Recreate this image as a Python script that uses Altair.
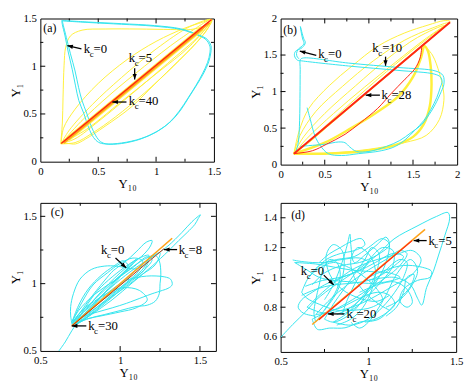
import math
import altair as alt
import pandas as pd

SERIF = "'Liberation Serif', 'Times New Roman', serif"
CYAN = "#33e4ee"
YELLOW = "#fff03a"
RED = "#ff2414"
ORANGE = "#ffa31a"

# ---------------- panel (a) ----------------
a_cyan1_x = [0.185, 0.418, 0.702, 0.986, 1.213, 1.355, 1.44, 1.474, 1.474, 1.455, 1.412, 1.355, 1.284, 1.213, 1.128,
             1.014, 0.872, 0.702, 0.56, 0.503, 0.46, 0.418, 0.375, 0.332, 0.304, 0.276, 0.241, 0.213, 0.19, 0.185]
a_cyan1_y = [1.48, 1.463, 1.446, 1.426, 1.392, 1.334, 1.284, 1.216, 1.149, 1.047, 0.929, 0.811, 0.676, 0.541, 0.422,
             0.321, 0.243, 0.196, 0.186, 0.203, 0.253, 0.355, 0.507, 0.642, 0.794, 0.963, 1.149, 1.318, 1.436, 1.48]
a_cyan2_x = [0.19, 0.42, 0.70, 0.98, 1.21, 1.35, 1.43, 1.465, 1.465, 1.445, 1.40, 1.345, 1.275, 1.20, 1.115,
             1.0, 0.86, 0.70, 0.575, 0.52, 0.48, 0.44, 0.40, 0.36, 0.33, 0.30, 0.26, 0.225, 0.198, 0.19]
a_cyan2_y = [1.475, 1.458, 1.44, 1.42, 1.386, 1.33, 1.28, 1.21, 1.14, 1.04, 0.92, 0.80, 0.665, 0.53, 0.41,
             0.31, 0.235, 0.19, 0.185, 0.21, 0.27, 0.37, 0.51, 0.64, 0.78, 0.95, 1.13, 1.30, 1.43, 1.475]
a_yel1_x = [0.176, 0.19, 0.196, 0.205, 0.219, 0.26, 0.36, 0.56, 0.844, 1.128, 1.30, 1.41, 1.483,
            1.41, 1.327, 1.185, 0.986, 0.787, 0.56, 0.389, 0.304, 0.24, 0.176]
a_yel1_y = [0.186, 0.405, 0.676, 1.01, 1.20, 1.318, 1.378, 1.39, 1.39, 1.385, 1.385, 1.42, 1.48,
            1.334, 1.216, 1.047, 0.81, 0.574, 0.372, 0.236, 0.186, 0.19, 0.186]
a_yel2_x = [0.18, 0.20, 0.30, 0.50, 0.75, 1.00, 1.25, 1.40, 1.48, 1.45, 1.35, 1.15, 0.90, 0.65, 0.45, 0.30, 0.18]
a_yel2_y = [0.19, 0.35, 0.55, 0.82, 1.07, 1.26, 1.40, 1.46, 1.49, 1.40, 1.25, 1.00, 0.72, 0.47, 0.30, 0.20, 0.19]
a_yel3_x = [0.18, 0.25, 0.45, 0.70, 1.00, 1.30, 1.48, 1.38, 1.10, 0.80, 0.50, 0.30, 0.18]
a_yel3_y = [0.19, 0.33, 0.60, 0.88, 1.18, 1.42, 1.49, 1.33, 1.03, 0.72, 0.42, 0.24, 0.19]
a_yel4_x = [0.18, 0.35, 0.60, 0.90, 1.20, 1.48, 1.30, 1.00, 0.70, 0.40, 0.18]
a_yel4_y = [0.19, 0.42, 0.70, 1.00, 1.28, 1.49, 1.22, 0.92, 0.63, 0.34, 0.19]
a_glow_x = [0.24, 1.40]
a_glow_y = [0.24, 1.40]
a_or_x = [0.20, 1.46]
a_or_y = [0.20, 1.46]
a_red_x = [0.18, 1.48]
a_red_y = [0.19, 1.49]

# ---------------- panel (b) ----------------
b_yel1_x = [0.15, 0.21, 0.32, 0.55, 0.81, 1.10, 1.40, 1.67, 1.85, 1.92, 1.80, 1.50, 1.10, 0.70, 0.40, 0.15]
b_yel1_y = [0.15, 0.46, 0.77, 1.08, 1.35, 1.62, 1.80, 1.91, 1.97, 1.96, 1.85, 1.57, 1.17, 0.74, 0.41, 0.15]
b_yel2_x = [0.15, 0.22, 0.40, 0.70, 1.05, 1.40, 1.72, 1.90, 1.78, 1.45, 1.05, 0.65, 0.33, 0.15]
b_yel2_y = [0.15, 0.40, 0.73, 1.07, 1.42, 1.70, 1.87, 1.94, 1.80, 1.48, 1.07, 0.65, 0.31, 0.15]
b_yel3_x = [0.15, 0.26, 0.50, 0.85, 1.20, 1.55, 1.85, 1.70, 1.35, 0.95, 0.55, 0.15]
b_yel3_y = [0.15, 0.38, 0.70, 1.08, 1.44, 1.74, 1.90, 1.72, 1.36, 0.95, 0.54, 0.15]
b_yel4_x = [0.15, 0.30, 0.60, 0.95, 1.30, 1.65, 1.90, 1.60, 1.20, 0.80, 0.40, 0.15]
b_yel4_y = [0.15, 0.36, 0.70, 1.06, 1.40, 1.73, 1.93, 1.63, 1.22, 0.81, 0.40, 0.15]
b_yel5_x = [1.62, 1.72, 1.80, 1.84, 1.85, 1.80, 1.65, 1.40, 1.00, 0.60, 0.15]
b_yel5_y = [1.64, 1.50, 1.25, 1.05, 0.88, 0.62, 0.40, 0.30, 0.21, 0.16, 0.15]
b_thick_x = [0.15, 0.50, 0.80, 1.07, 1.33, 1.50, 1.59, 1.63, 1.67, 1.70, 1.71, 1.69, 1.62, 1.50, 1.25, 0.90, 0.50, 0.15]
b_thick_y = [0.15, 0.30, 0.50, 0.70, 0.93, 1.20, 1.46, 1.62, 1.55, 1.35, 1.10, 0.80, 0.55, 0.38, 0.25, 0.18, 0.15, 0.15]
b_cyan1_x = [0.30, 0.336, 0.39, 0.45, 0.54, 0.69, 0.88, 1.14, 1.30, 1.42, 1.52, 1.62, 1.70, 1.77, 1.81, 1.83, 1.81,
             1.74, 1.33, 0.77, 0.24, 0.19, 0.157, 0.168, 0.243, 0.28, 0.26, 0.224]
b_cyan1_y = [0.78, 0.62, 0.39, 0.26, 0.15, 0.125, 0.15, 0.19, 0.25, 0.35, 0.47, 0.60, 0.75, 0.92, 1.06, 1.14, 1.20,
             1.24, 1.29, 1.35, 1.42, 1.43, 1.49, 1.55, 1.60, 1.67, 1.73, 1.89]
b_cyan2_x = [0.17, 0.20, 0.215, 0.22, 0.222, 0.225, 0.26, 0.77, 1.33, 1.76, 1.84, 1.85, 1.82, 1.75, 1.68, 1.60, 1.48,
             1.35, 1.20, 1.00, 0.86, 0.785, 0.729, 0.654, 0.505, 0.318, 0.22]
b_cyan2_y = [0.17, 0.30, 0.60, 1.00, 1.30, 1.44, 1.46, 1.39, 1.33, 1.28, 1.22, 1.10, 1.00, 0.82, 0.68, 0.55, 0.44,
             0.33, 0.25, 0.18, 0.18, 0.24, 0.30, 0.31, 0.28, 0.26, 0.25]
b_cyan3_x = [0.224, 0.235, 0.25, 0.265, 0.24, 0.20, 0.18, 0.19, 0.21]
b_cyan3_y = [1.89, 1.80, 1.72, 1.66, 1.62, 1.58, 1.52, 1.47, 1.45]
b_red_x = [0.15, 1.92]
b_red_y = [0.15, 1.95]
b_redloop_x = [1.60, 1.58, 1.52, 1.41, 1.25, 1.10, 0.90, 0.73, 0.52, 0.36, 0.15]
b_redloop_y = [1.62, 1.46, 1.31, 1.17, 0.97, 0.77, 0.57, 0.415, 0.28, 0.19, 0.15]

# ---------------- panel (c) ----------------
c_cyan1_x = [0.616, 0.656, 0.697, 0.75, 0.85, 0.97, 1.10, 1.22, 1.30, 1.387, 1.45, 1.503, 1.49, 1.468, 1.42, 1.367,
             1.30, 1.20, 1.08, 0.95, 0.82, 0.72]
c_cyan1_y = [0.50, 0.567, 0.65, 0.74, 0.87, 1.00, 1.12, 1.21, 1.28, 1.38, 1.46, 1.511, 1.485, 1.44, 1.38, 1.32,
             1.24, 1.13, 1.01, 0.88, 0.77, 0.69]
c_cyan2_x = [0.70, 0.69, 0.69, 0.707, 0.748, 0.819, 0.90, 0.98, 1.04, 1.10, 1.15, 1.18, 1.15, 1.05, 0.90, 0.78, 0.70]
c_cyan2_y = [0.69, 0.76, 0.83, 0.925, 1.033, 1.105, 1.13, 1.13, 1.117, 1.11, 1.14, 1.18, 1.10, 1.00, 0.85, 0.74, 0.69]
c_cyan3_x = [0.70, 0.80, 0.92, 1.03, 1.103, 1.165, 1.225, 1.28, 1.316, 1.326, 1.30, 1.265, 1.20, 1.143, 1.04, 0.95,
             0.86, 0.78, 0.72, 0.70]
c_cyan3_y = [0.69, 0.80, 0.93, 1.02, 1.045, 1.056, 1.057, 1.05, 1.033, 0.992, 0.965, 0.95, 0.925, 0.90, 0.854, 0.82,
             0.79, 0.76, 0.72, 0.69]
c_cyan4_x = [0.95, 1.05, 1.15, 1.22, 1.245, 1.255, 1.25, 1.245, 1.22, 1.17, 1.10, 1.00, 0.90, 0.80, 0.72]
c_cyan4_y = [1.00, 1.10, 1.18, 1.21, 1.17, 1.07, 1.00, 0.925, 0.87, 0.84, 0.83, 0.80, 0.77, 0.74, 0.70]
c_cyan5_x = [0.70, 0.80, 0.90, 0.96, 1.03, 1.10, 1.164, 1.20, 1.19, 1.15, 1.08, 1.00, 0.90, 0.80, 0.72]
c_cyan5_y = [0.70, 0.87, 1.02, 1.10, 1.16, 1.236, 1.308, 1.32, 1.28, 1.22, 1.15, 1.06, 0.93, 0.80, 0.71]
c_cyan6_x = [0.72, 0.78, 0.86, 0.95, 1.05, 1.12, 1.18, 1.15, 1.07, 0.98, 0.88, 0.80, 0.72]
c_cyan6_y = [0.70, 0.82, 0.95, 1.05, 1.14, 1.19, 1.21, 1.12, 1.03, 0.94, 0.84, 0.76, 0.70]
c_cyan7_x = [0.70, 0.76, 0.83, 0.92, 1.00, 1.08, 1.14, 1.12, 1.04, 0.96, 0.88, 0.80, 0.72]
c_cyan7_y = [0.72, 0.86, 0.99, 1.08, 1.15, 1.19, 1.17, 1.10, 1.01, 0.93, 0.85, 0.77, 0.70]
c_cyan8_x = [0.71, 0.80, 0.92, 1.04, 1.14, 1.22, 1.25, 1.20, 1.10, 1.00, 0.88, 0.78, 0.71]
c_cyan8_y = [0.70, 0.78, 0.88, 0.98, 1.07, 1.14, 1.23, 1.20, 1.10, 0.99, 0.87, 0.77, 0.70]
c_cyan9_x = [0.72, 0.80, 0.88, 1.00, 1.10, 1.17, 1.12, 1.02, 0.92, 0.84, 0.76, 0.70]
c_cyan9_y = [0.70, 0.74, 0.76, 0.79, 0.82, 0.88, 0.95, 0.97, 0.93, 0.87, 0.80, 0.71]
c_cyan10_x = [0.70, 0.74, 0.80, 0.88, 0.96, 1.02, 1.05, 1.00, 0.92, 0.84, 0.76, 0.70]
c_cyan10_y = [0.72, 0.84, 0.96, 1.06, 1.13, 1.17, 1.13, 1.05, 0.95, 0.86, 0.78, 0.71]
c_cyan11_x = [0.70, 0.78, 0.85, 0.93, 1.00, 1.06, 1.10, 1.06, 0.98, 0.90, 0.82, 0.74, 0.70]
c_cyan11_y = [0.70, 0.80, 0.90, 1.00, 1.08, 1.14, 1.18, 1.12, 1.04, 0.95, 0.86, 0.77, 0.71]
c_cyan12_x = [0.72, 0.82, 0.94, 1.06, 1.15, 1.20, 1.17, 1.08, 0.96, 0.84, 0.74, 0.70]
c_cyan12_y = [0.72, 0.82, 0.92, 1.02, 1.10, 1.18, 1.20, 1.12, 1.02, 0.92, 0.80, 0.72]
c_or_x = [0.697, 1.326]
c_or_y = [0.686, 1.337]
c_red_x = [0.697, 1.275]
c_red_y = [0.686, 1.26]

# ---------------- panel (d) ----------------
d_cyan1_x = [0.50, 0.569, 0.643, 0.70, 0.755, 0.85, 0.95, 1.05, 1.146, 1.277, 1.388, 1.453, 1.463, 1.435, 1.40,
             1.37, 1.332, 1.304, 1.28, 1.24, 1.15, 1.00]
d_cyan1_y = [0.597, 0.684, 0.77, 0.846, 0.90, 0.98, 1.06, 1.15, 1.258, 1.344, 1.409, 1.435, 1.398, 1.279, 1.15,
             1.04, 0.933, 0.814, 0.86, 0.95, 1.00, 0.98]
d_cyan2_x = [0.569, 0.60, 0.68, 0.75, 0.85, 0.95, 1.00, 0.95, 0.85, 0.75, 0.68, 0.62, 0.60, 0.63, 0.70]
d_cyan2_y = [1.117, 1.11, 1.10, 1.10, 1.12, 1.13, 1.10, 1.05, 1.00, 0.95, 0.90, 0.85, 0.80, 0.76, 0.74]
d_cyan3_x = [0.75, 0.80, 0.85, 0.88, 0.895, 0.90, 0.92, 0.98, 1.05, 1.10, 1.12, 1.10, 1.05, 0.98, 0.90, 0.82]
d_cyan3_y = [0.85, 0.95, 1.10, 1.22, 1.29, 1.22, 1.10, 1.15, 1.22, 1.27, 1.23, 1.10, 0.98, 0.88, 0.80, 0.75]
d_cyan4_x = [0.68, 0.709, 0.78, 0.867, 0.95, 1.03, 1.10, 1.15, 1.12, 1.05, 0.95, 0.85, 0.75, 0.68]
d_cyan4_y = [0.72, 0.652, 0.66, 0.662, 0.70, 0.716, 0.76, 0.82, 0.88, 0.90, 0.86, 0.80, 0.76, 0.72]
d_cyan5_x = [1.00, 1.10, 1.20, 1.30, 1.36, 1.35, 1.28, 1.20, 1.18, 1.22, 1.25, 1.22, 1.15, 1.05, 0.95]
d_cyan5_y = [1.00, 1.05, 1.08, 1.07, 1.04, 1.00, 0.98, 0.92, 0.84, 0.80, 0.83, 0.92, 0.97, 0.95, 0.90]
d_cyan6_x = [0.62, 0.66, 0.72, 0.80, 0.90, 0.98, 1.05, 1.08, 1.02, 0.92, 0.82, 0.72, 0.65, 0.62]
d_cyan6_y = [0.90, 1.00, 1.06, 1.10, 1.06, 1.00, 0.92, 0.85, 0.80, 0.78, 0.78, 0.82, 0.86, 0.90]
d_cyan7_x = [0.70, 0.78, 0.88, 1.00, 1.10, 1.18, 1.22, 1.18, 1.10, 1.00, 0.88, 0.78, 0.70]
d_cyan7_y = [0.75, 0.85, 0.95, 1.05, 1.12, 1.18, 1.16, 1.08, 1.00, 0.92, 0.83, 0.77, 0.75]
d_cyan8_x = [0.75, 0.80, 0.86, 0.92, 0.98, 1.02, 1.06, 1.05, 1.00, 0.95, 0.88, 0.80, 0.75]
d_cyan8_y = [0.72, 0.82, 0.92, 1.02, 1.12, 1.20, 1.16, 1.05, 0.92, 0.82, 0.74, 0.70, 0.72]
d_cyan9_x = [0.65, 0.72, 0.80, 0.92, 1.05, 1.15, 1.25, 1.30, 1.25, 1.15, 1.05, 0.95, 0.85, 0.75, 0.65]
d_cyan9_y = [0.80, 0.88, 0.96, 1.06, 1.12, 1.15, 1.18, 1.12, 1.02, 0.95, 0.88, 0.82, 0.78, 0.76, 0.80]
d_cyan10_x = [0.80, 0.90, 1.00, 1.08, 1.15, 1.20, 1.22, 1.18, 1.10, 1.02, 0.95, 0.88, 0.80]
d_cyan10_y = [0.70, 0.68, 0.72, 0.80, 0.90, 1.00, 1.10, 1.12, 1.05, 0.95, 0.85, 0.76, 0.70]
d_cyan11_x = [0.58, 0.65, 0.72, 0.80, 0.90, 1.00, 1.10, 1.18, 1.12, 1.00, 0.90, 0.80, 0.70, 0.58]
d_cyan11_y = [1.10, 1.05, 1.00, 0.98, 0.97, 0.96, 0.97, 1.00, 1.03, 1.04, 1.05, 1.07, 1.09, 1.10]
d_cyan12_x = [0.70, 0.76, 0.82, 0.84, 0.82, 0.78, 0.74, 0.72, 0.70, 0.69, 0.70]
d_cyan12_y = [0.70, 0.80, 0.92, 1.02, 1.10, 1.12, 1.05, 0.95, 0.85, 0.76, 0.70]
d_cyan13_x = [0.75, 0.82, 0.86, 0.85, 0.80, 0.76, 0.78, 0.85, 0.95, 1.05, 1.12]
d_cyan13_y = [0.78, 0.90, 1.05, 1.18, 1.22, 1.15, 1.02, 0.92, 0.86, 0.84, 0.88]
d_cyan14_x = [0.82, 0.90, 0.97, 1.02, 1.04, 1.00, 0.94, 0.90, 0.92, 0.98, 1.06, 1.12]
d_cyan14_y = [0.68, 0.72, 0.80, 0.92, 1.05, 1.16, 1.20, 1.12, 1.00, 0.90, 0.82, 0.78]
d_cyan15_x = [0.68, 0.75, 0.85, 0.95, 1.05, 1.12, 1.08, 1.00, 0.92, 0.82, 0.72, 0.66]
d_cyan15_y = [0.95, 1.03, 1.08, 1.10, 1.15, 1.22, 1.26, 1.20, 1.14, 1.12, 1.08, 1.00]
d_cyan16_x = [0.90, 0.95, 1.00, 1.05, 1.10, 1.16, 1.24, 1.28, 1.25, 1.18, 1.10]
d_cyan16_y = [0.70, 0.66, 0.70, 0.78, 0.88, 1.02, 1.12, 1.05, 0.95, 0.85, 0.80]
d_cyan17_x = [0.62, 0.70, 0.80, 0.90, 1.00, 1.08, 1.15, 1.20, 1.14, 1.04, 0.94, 0.84, 0.74, 0.64]
d_cyan17_y = [0.88, 0.92, 0.95, 0.96, 0.98, 1.02, 1.08, 1.14, 1.16, 1.10, 1.04, 1.00, 0.98, 0.94]
d_cyan18_x = [0.85, 0.88, 0.92, 0.97, 1.02, 1.08, 1.14, 1.14, 1.08, 1.00, 0.93, 0.85]
d_cyan18_y = [0.75, 0.85, 0.95, 1.05, 1.14, 1.20, 1.18, 1.08, 0.98, 0.88, 0.80, 0.75]
d_cyan19_x = [1.10, 1.16, 1.20, 1.22, 1.26, 1.24, 1.18, 1.12, 1.06, 0.98]
d_cyan19_y = [0.74, 0.80, 0.90, 1.00, 1.02, 0.94, 0.86, 0.78, 0.72, 0.70]
d_cyan20_x = [0.70, 0.76, 0.84, 0.92, 0.98, 0.96, 0.90, 0.84, 0.78, 0.72]
d_cyan20_y = [1.05, 1.12, 1.16, 1.18, 1.22, 1.26, 1.24, 1.20, 1.16, 1.10]
d_or_x = [0.68, 1.323]
d_or_y = [0.684, 1.322]
d_red_x = [0.718, 1.249]
d_red_y = [0.716, 1.247]

# ---------------- annotations: (text x, text y, label, tail x, tail y, head x, head y) ----------------
a_notes = [(0.375, 1.182, "=0", 0.355, 1.182, 0.233, 1.216),
           (0.764, 1.088, "=5", 0.815, 0.98, 0.815, 0.861),
           (0.764, 0.630, "=40", 0.744, 0.625, 0.622, 0.625)]
b_notes = [(0.426, 1.509, "=0", 0.404, 1.496, 0.217, 1.554),
           (1.039, 1.589, "=10", 1.189, 1.478, 1.189, 1.353),
           (1.144, 0.951, "=28", 1.125, 0.951, 0.964, 0.951)]
c_notes = [(0.880, 1.248, "=0", 0.971, 1.19, 1.038, 1.117),
           (1.367, 1.248, "=8", 1.357, 1.253, 1.275, 1.253),
           (0.800, 0.686, "=30", 0.788, 0.686, 0.697, 0.686)]
d_notes = [(1.342, 1.247, "=5", 1.332, 1.247, 1.258, 1.247),
           (0.615, 1.041, "=0", 0.746, 1.015, 0.802, 0.950),
           (0.876, 0.755, "=20", 0.863, 0.755, 0.770, 0.755)]

ARROW = "M0,0L0.7,1.9L-0.7,1.9Z"


def traj_df(series):
    rows = []
    for k, (xs, ys) in enumerate(series):
        for i, (x, y) in enumerate(zip(xs, ys)):
            rows.append({"s": k, "i": i, "x": x, "y": y})
    return pd.DataFrame(rows)


def tick_df(xd, yd, W, H, xmaj, xmin_, ymaj, ymin_):
    ux = (xd[1] - xd[0]) / W
    uy = (yd[1] - yd[0]) / H
    rows = []
    for v, L in [(v, 5) for v in xmaj] + [(v, 3) for v in xmin_]:
        rows.append({"x": v, "x2": v, "y": yd[0], "y2": yd[0] + L * uy})
        rows.append({"x": v, "x2": v, "y": yd[1], "y2": yd[1] - L * uy})
    for v, L in [(v, 5) for v in ymaj] + [(v, 3) for v in ymin_]:
        rows.append({"y": v, "y2": v, "x": xd[0], "x2": xd[0] + L * ux})
        rows.append({"y": v, "y2": v, "x": xd[1], "x2": xd[1] - L * ux})
    return pd.DataFrame(rows)


def panel(P):
    xd, yd, W, H = P["xd"], P["yd"], P["W"], P["H"]
    xs = alt.Scale(domain=xd, nice=False, zero=False)
    ys = alt.Scale(domain=yd, nice=False, zero=False)
    common = dict(grid=False, ticks=False, domain=False, labelFont=SERIF, labelFontSize=11, labelPadding=4,
                  labelOverlap=False, labelColor="black", titleFont=SERIF, titleFontSize=13,
                  titleFontWeight="normal", titleColor="black", format="~g")
    ax = alt.Axis(values=P["xlab"], title="Y₁₀", labelFlush=False, titlePadding=1, **common)
    ay = alt.Axis(values=P["ylab"], title="Y₁", titlePadding=1, **common)

    def X(f):
        return alt.X(f, type="quantitative", scale=xs, axis=ax)

    def Y(f):
        return alt.Y(f, type="quantitative", scale=ys, axis=ay)

    layers = []
    tdf = tick_df(xd, yd, W, H, *P["ticks"])
    layers.append(alt.Chart(tdf).mark_rule(color="black", strokeWidth=1).encode(
        x=X("x"), x2="x2", y=Y("y"), y2="y2"))
    for series, color, width, op in P["groups"]:
        layers.append(alt.Chart(traj_df(series)).mark_line(
            color=color, strokeWidth=width, opacity=op, interpolate="catmull-rom", clip=True).encode(
            x=X("x"), y=Y("y"), detail="s:N", order="i:Q"))
    # panel label
    layers.append(alt.Chart(pd.DataFrame([{"x": P["lab"][0], "y": P["lab"][1], "t": P["lab"][2]}])).mark_text(
        align="left", baseline="middle", font=SERIF, fontSize=12, color="black").encode(
        x=X("x"), y=Y("y"), text="t:N"))
    # annotations
    px_x = W / (xd[1] - xd[0])
    px_y = H / (yd[1] - yd[0])
    rows = []
    for tx, ty, lab, x1, y1, x2, y2 in P["notes"]:
        dx = (x2 - x1) * px_x
        dy = -(y2 - y1) * px_y
        ang = math.degrees(math.atan2(dx, -dy)) % 360
        rows.append({"tx": tx, "ty": ty, "lab": lab, "x1": x1, "y1": y1, "x2": x2, "y2": y2, "ang": ang})
    ndf = pd.DataFrame(rows)
    layers.append(alt.Chart(ndf).mark_rule(color="black", strokeWidth=1.3).encode(
        x=X("x1"), y=Y("y1"), x2="x2", y2="y2"))
    layers.append(alt.Chart(ndf).mark_point(shape=ARROW, filled=True, size=36, color="black", opacity=1,
                                            strokeWidth=0).encode(
        x=X("x2"), y=Y("y2"), angle=alt.Angle("ang:Q", scale=None)))
    layers.append(alt.Chart(ndf).mark_text(text="k", align="left", baseline="middle", font=SERIF, fontSize=13,
                                           color="black").encode(x=X("tx"), y=Y("ty")))
    layers.append(alt.Chart(ndf).mark_text(text="c", align="left", baseline="middle", font=SERIF, fontSize=9,
                                           dx=6, dy=5, color="black").encode(x=X("tx"), y=Y("ty")))
    layers.append(alt.Chart(ndf).mark_text(align="left", baseline="middle", font=SERIF, fontSize=13,
                                           dx=10, color="black").encode(x=X("tx"), y=Y("ty"), text="lab:N"))
    return alt.layer(*layers).properties(width=W, height=H)


PA = dict(xd=[0, 1.5], yd=[0, 1.5], W=177, H=146, xlab=[0, 0.5, 1, 1.5], ylab=[0, 0.5, 1, 1.5],
          ticks=([0.5, 1.0], [0.25, 0.75, 1.25], [0.5, 1.0], [0.25, 0.75, 1.25]),
          lab=(0.025, 1.395, "(a)"),
          groups=[([(a_yel1_x, a_yel1_y), (a_yel2_x, a_yel2_y), (a_yel3_x, a_yel3_y), (a_yel4_x, a_yel4_y)], YELLOW, 1, 1),
                  ([(a_cyan1_x, a_cyan1_y), (a_cyan2_x, a_cyan2_y)], CYAN, 1, 1),
                  ([(a_glow_x, a_glow_y)], YELLOW, 5, 0.9),
                  ([(a_or_x, a_or_y)], ORANGE, 3, 1),
                  ([(a_red_x, a_red_y)], RED, 1.5, 1)],
          notes=a_notes)
PB = dict(xd=[0, 2], yd=[0, 2], W=180, H=149, xlab=[0, 0.5, 1, 1.5, 2], ylab=[0, 0.5, 1, 1.5, 2],
          ticks=([0.5, 1.0, 1.5], [0.25, 0.75, 1.25, 1.75], [0.5, 1.0, 1.5], [0.25, 0.75, 1.25, 1.75]),
          lab=(0.03, 1.84, "(b)"),
          groups=[([(b_yel1_x, b_yel1_y), (b_yel2_x, b_yel2_y), (b_yel3_x, b_yel3_y), (b_yel4_x, b_yel4_y),
                    (b_yel5_x, b_yel5_y)], YELLOW, 1, 1),
                  ([(b_thick_x, b_thick_y)], YELLOW, 2.5, 1),
                  ([(b_cyan1_x, b_cyan1_y), (b_cyan2_x, b_cyan2_y), (b_cyan3_x, b_cyan3_y)], CYAN, 1, 1),
                  ([(b_redloop_x, b_redloop_y)], RED, 1, 1),
                  ([(b_red_x, b_red_y)], RED, 2, 1)],
          notes=b_notes)
PC = dict(xd=[0.5, 1.6], yd=[0.5, 1.6], W=179, H=151, xlab=[0.5, 1, 1.5], ylab=[0.5, 1, 1.5],
          ticks=([1.0, 1.5], [0.75, 1.25], [1.0, 1.5], [0.75, 1.25]),
          lab=(0.565, 1.535, "(c)"),
          groups=[([(c_cyan1_x, c_cyan1_y), (c_cyan2_x, c_cyan2_y), (c_cyan3_x, c_cyan3_y), (c_cyan4_x, c_cyan4_y),
                    (c_cyan5_x, c_cyan5_y), (c_cyan6_x, c_cyan6_y), (c_cyan7_x, c_cyan7_y), (c_cyan8_x, c_cyan8_y),
                    (c_cyan9_x, c_cyan9_y), (c_cyan10_x, c_cyan10_y), (c_cyan11_x, c_cyan11_y),
                    (c_cyan12_x, c_cyan12_y)], CYAN, 1, 1),
                  ([(c_or_x, c_or_y)], ORANGE, 1.6, 1),
                  ([(c_red_x, c_red_y)], "#c8320a", 1, 1)],
          notes=c_notes)
PD = dict(xd=[0.5, 1.5], yd=[0.5, 1.5], W=179, H=152, xlab=[0.5, 1, 1.5], ylab=[0.6, 0.8, 1, 1.2, 1.4],
          ticks=([1.0], [0.75, 1.25], [0.6, 0.8, 1.0, 1.2, 1.4], [0.7, 0.9, 1.1, 1.3]),
          lab=(0.56, 1.42, "(d)"),
          groups=[([(d_cyan1_x, d_cyan1_y), (d_cyan2_x, d_cyan2_y), (d_cyan3_x, d_cyan3_y), (d_cyan4_x, d_cyan4_y),
                    (d_cyan5_x, d_cyan5_y), (d_cyan6_x, d_cyan6_y), (d_cyan7_x, d_cyan7_y), (d_cyan8_x, d_cyan8_y),
                    (d_cyan9_x, d_cyan9_y), (d_cyan10_x, d_cyan10_y), (d_cyan11_x, d_cyan11_y),
                    (d_cyan12_x, d_cyan12_y), (d_cyan13_x, d_cyan13_y), (d_cyan14_x, d_cyan14_y),
                    (d_cyan15_x, d_cyan15_y), (d_cyan16_x, d_cyan16_y), (d_cyan17_x, d_cyan17_y),
                    (d_cyan18_x, d_cyan18_y), (d_cyan19_x, d_cyan19_y), (d_cyan20_x, d_cyan20_y)], CYAN, 1, 1),
                  ([(d_or_x, d_or_y)], ORANGE, 1.6, 1),
                  ([(d_red_x, d_red_y)], RED, 1.2, 1)],
          notes=d_notes)

row1 = alt.hconcat(panel(PA), panel(PB), spacing=68, bounds="flush")
row2 = alt.hconcat(panel(PC), panel(PD), spacing=66, bounds="flush")
chart = alt.vconcat(row1, row2, spacing=8).properties(
    padding={"left": 0, "top": 0, "right": 0, "bottom": 0}, background="white"
).configure_view(stroke="black", strokeWidth=1)

chart.save("out.html", embed_options={"renderer": "svg", "actions": False})
